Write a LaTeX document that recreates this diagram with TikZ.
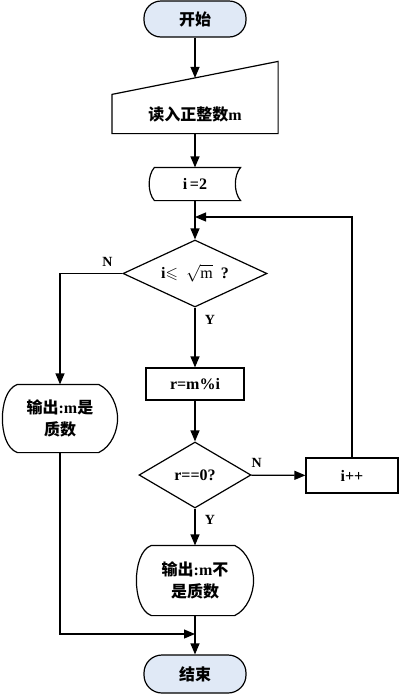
\documentclass[tikz,border=0pt]{standalone}
\usepackage{amsmath}
\usepackage{amssymb}
\usepackage{fontspec}
\setmainfont{Liberation Serif}
\newfontfamily\cjk{Noto Sans CJK SC}
\usetikzlibrary{calc}
\usetikzlibrary{arrows.meta}
\usetikzlibrary{shapes.geometric}
\definecolor{termblue}{RGB}{224,233,246}
\newcommand{\dispshape}[1]{\draw[myline] ($(#1.north west)+(15,0)$) -- ($(#1.north east)+(-19,0)$)
  .. controls ($(#1.north east)+(-6,6)$) and ($(#1.east)+(0,-12)$) .. (#1.east)
  .. controls ($(#1.east)+(0,12)$) and ($(#1.south east)+(-6,-6)$) .. ($(#1.south east)+(-19,0)$)
  -- ($(#1.south west)+(15,0)$) .. controls ($(#1.south west)+(4,-4)$) and ($(#1.west)+(0,14)$) .. (#1.west)
  .. controls ($(#1.west)+(0,-14)$) and ($(#1.north west)+(4,4)$) .. cycle;}

\begin{document}
\begin{tikzpicture}[x=1pt,y=-1pt]
  \tikzset{myedge/.style={-{Triangle[length=11pt,width=9pt]}, line width=1.2pt}};
  \tikzset{myline/.style={line width=1.2pt}};
  \tikzset{mynode/.style={draw=black, line width=1.2pt, inner sep=0pt, align=center, font=\fontsize{16}{22}\selectfont\bfseries}};
  \tikzset{mybox/.style={mynode, draw=none}};
  \tikzset{myterm/.style={mynode, fill=termblue, rounded corners=17pt, minimum width=102pt, minimum height=36pt}};
  \tikzset{mycond/.style={mynode, diamond, aspect=2}};
  \tikzset{mylabel/.style={font=\fontsize{14}{16}\selectfont\bfseries}};
  \useasboundingbox (0,0) rectangle (400,694);

  \node[myterm] (start) at (195,19) {\cjk 开始};
  \node[mybox, minimum width=165pt, minimum height=38pt] (read) at (195,114) {{\cjk 读入正整数}m};
  \coordinate (readtop) at ($(read.north)+(0,-16.5)$);
  \node[mybox, minimum width=90pt, minimum height=32pt] (init) at (195,184) {i\,=2};
  \coordinate (join) at (195,217);
  \node[mycond, minimum width=144pt, minimum height=67pt] (cond1) at (195,273.5) {i$\leqslant$\ \ $\sqrt{\mathrm{m}}$\ \ ?};
  \node[mynode, minimum width=98pt, minimum height=32pt] (mod) at (195,384) {r=m\%i};
  \node[mybox, minimum width=114pt, minimum height=67pt] (yes) at (60,418.5) {{\cjk 输出}:m{\cjk 是}\\{\cjk 质数}};
  \node[mycond, minimum width=112pt, minimum height=66pt] (cond2) at (195,475) {r==0?};
  \node[mynode, minimum width=92pt, minimum height=35pt] (incr) at (352,475.5) {i++};
  \node[mybox, minimum width=116pt, minimum height=69pt] (no) at (195,580.5) {{\cjk 输出}:m{\cjk 不}\\{\cjk 是质数}};
  \coordinate (merge) at (195,634);
  \node[myterm, minimum height=38pt, rounded corners=18pt] (stop) at (195,674) {\cjk 结束};

  % shapes drawn round the boxes
  \draw[myline] ($(read.north west)$) -- ($(read.north east)+(0,-33)$) -- (read.south east) -- (read.south west) -- cycle;
  \draw[myline] ($(init.north west)+(5,0)$) -- (init.north east) .. controls ($(init.north east)+(-7,8)$) and ($(init.south east)+(-7,-8)$) .. (init.south east)
    -- ($(init.south west)+(5,0)$) .. controls ($(init.south west)+(-2,-8)$) and ($(init.north west)+(-2,8)$) .. cycle;
  \dispshape{yes}
  \dispshape{no}

  \draw[myedge] (start) -- (readtop);
  \draw[myedge] (read) -- (init);
  \draw[myline] (init) -- (join);
  \draw[myedge] (join) -- (cond1);
  \draw[myedge] (cond1.west) -| (yes.north) node[mylabel, pos=0.12, above=3pt] {N};
  \draw[myedge] (cond1) -- (mod) node[mylabel, pos=0.2, right=6pt] {Y};
  \draw[myedge] (mod) -- (cond2);
  \draw[myedge] (cond2) -- (incr) node[mylabel, pos=0.1, above=4pt] {N};
  \draw[myedge] (incr.north) |- (join);
  \draw[myedge] (cond2) -- (no) node[mylabel, pos=0.3, right=6pt] {Y};
  \draw[myedge] (yes.south) |- (merge);
  \draw[myedge] (no) -- (stop);
\end{tikzpicture}
\end{document}
